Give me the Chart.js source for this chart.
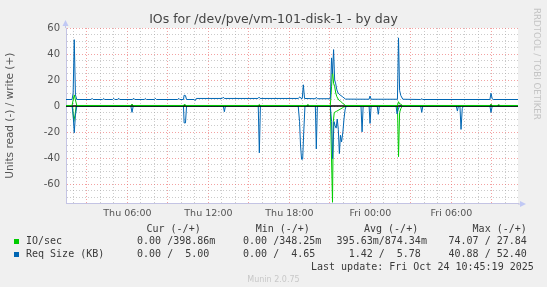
<!DOCTYPE html>
<html>
<head>
<meta charset="utf-8">
<script src="https://cdn.jsdelivr.net/npm/chart.js@4.4.1/dist/chart.umd.min.js"></script>
<style>
  html, body { margin: 0; padding: 0; background: #f0f0f0; }
  #wrap { position: relative; width: 547px; height: 287px; overflow: hidden;
          font-family: "DejaVu Sans Mono", monospace; font-size: 10px; color: #3a3a3a; }
  #wrap canvas { position: absolute; left: 0; top: 0; }
  .t { position: absolute; white-space: pre; line-height: 12px; }
  .sq { position: absolute; width: 5px; height: 5px; }
  #vendor { position: absolute; left: 532px; top: 8px; writing-mode: vertical-rl;
            font-family: "DejaVu Sans", sans-serif; font-size: 8.7px; color: #c4c4c4; white-space: nowrap; }
  #ver { position: absolute; left: 0; width: 547px; top: 275px; text-align: center;
         font-family: "DejaVu Sans", sans-serif; font-size: 8px; line-height: 10px; color: #c8c8c8; }
</style>
</head>
<body>
<div id="wrap">
  <canvas id="chart" width="547" height="287"></canvas>
  <div id="vendor">RRDTOOL / TOBI OETIKER</div>
  <div id="legend"></div>
  <div id="ver"></div>
</div>
<script>
// hours since Thu 00:00
const xMin = 1.45;
const xMax = 34.93;
const xLabelHours = [6, 12, 18, 24, 30];
const xLabels = ["Thu 06:00", "Thu 12:00", "Thu 18:00", "Fri 00:00", "Fri 06:00"];
const yMin = -75;
const yMax = 60;
const yLabelValues = [-60, -40, -20, 0, 20, 40, 60];

const ioWrite = [
  [1.45, 0.4], [1.9, 0.4], [1.98, 4.6], [2.06, 8.5], [2.15, 4.6], [2.25, 0.4],
  [6.25, 0.4], [6.34, 1.5], [6.43, 0.4],
  [10.15, 0.4], [10.24, 1.5], [10.32, 0.4],
  [15.69, 0.4], [15.77, 1.2], [15.85, 0.4],
  [19.28, 0.4], [19.37, 1.2], [19.45, 0.4],
  [21.03, 0.4], [21.12, 15], [21.19, 27.84], [21.27, 17.5], [21.35, 15], [21.43, 10],
  [21.51, 7.2], [21.65, 4.6], [21.8, 3.5], [21.95, 2], [22.15, 0.4],
  [26.0, 0.4], [26.08, 3.3], [26.16, 1.5], [26.25, 1.5], [26.35, 0.4],
  [32.85, 0.4], [32.93, 1.5], [33.02, 0.4],
  [33.4, 0.4], [33.5, 1.0], [33.6, 0.4],
  [34.93, 0.4]
];
const ioRead = [
  [1.45, 0], [1.94, 0], [2.02, -12], [2.12, -7], [2.2, 0],
  [21.03, 0], [21.19, -74.07], [21.25, -12], [21.32, -5], [21.5, -4], [21.75, -2.5],
  [22.0, -1], [22.2, 0],
  [26.0, 0], [26.08, -39], [26.16, -5], [26.25, -2], [26.35, 0],
  [34.93, 0]
];
const sizeWrite = [
  [1.45, 5], [1.9, 5], [1.98, 10], [2.06, 51], [2.15, 8.5], [2.25, 5],
  [3.3, 5], [3.38, 5.9], [3.46, 5], [4.16, 5], [4.24, 5.8], [4.32, 5],
  [4.9, 5], [4.98, 5.9], [5.06, 5], [5.27, 5], [5.35, 6], [5.43, 5],
  [6.38, 5], [6.46, 6], [6.54, 5], [7.25, 5], [7.33, 5.8], [7.41, 5],
  [8.0, 5], [8.07, 5.9], [8.15, 5], [9.72, 5], [9.8, 5.9], [9.88, 5],
  [10.15, 5], [10.2, 8.3], [10.3, 8.0], [10.38, 5],
  [10.95, 5], [11.02, 4.2], [11.1, 5.8],
  [13.02, 5.8], [13.1, 6.8], [13.18, 5.8],
  [15.67, 5.8], [15.75, 6.8], [15.83, 5.8],
  [18.65, 5.8], [18.77, 7], [18.86, 5.8], [18.95, 5.8], [19.03, 16.3], [19.12, 5.8],
  [19.92, 5.6], [19.99, 6.6], [20.07, 5.6],
  [21.03, 5.6], [21.12, 37], [21.19, 25], [21.27, 43.4], [21.35, 20], [21.43, 17],
  [21.51, 12.5], [21.6, 10], [21.75, 8.5], [21.95, 7], [22.15, 5.3],
  [23.9, 5.2], [23.97, 7.7], [24.05, 5.2],
  [26.0, 5.2], [26.08, 52.4], [26.16, 12], [26.25, 8], [26.4, 5.2],
  [27.72, 5], [27.8, 5.6], [27.88, 5],
  [32.85, 5], [32.93, 9.8], [33.02, 5.5], [33.1, 5],
  [34.93, 5]
];
const sizeRead = [
  [1.45, 0], [1.9, 0], [1.98, -7], [2.06, -20.6], [2.15, -7], [2.25, 0],
  [6.25, 0], [6.34, -4.9], [6.43, 0],
  [10.15, 0], [10.2, -13], [10.3, -13], [10.38, 0],
  [13.1, 0], [13.18, -4.4], [13.26, 0],
  [15.69, 0], [15.77, -36], [15.85, 0],
  [18.65, 0], [18.75, -12], [18.82, -30], [18.9, -41], [18.98, -40.88], [19.06, -20], [19.15, 0],
  [19.92, 0], [19.99, -33], [20.07, 0],
  [21.03, 0], [21.12, -12], [21.2, -40.5], [21.3, -12], [21.38, -15], [21.46, -17],
  [21.54, -10], [21.62, -18], [21.7, -36.6], [21.78, -22.5], [21.86, -27.6], [21.96, -20],
  [22.04, -10], [22.12, -3], [22.2, 0],
  [23.3, 0], [23.38, -19.9], [23.46, 0],
  [23.9, 0], [23.97, -13.4], [24.05, 0],
  [24.5, 0], [24.58, -6.4], [24.66, 0],
  [25.9, 0], [25.97, -6], [26.05, -3], [26.15, 0],
  [27.72, 0], [27.8, -4.9], [27.88, 0],
  [30.36, 0], [30.44, -3.9], [30.52, 0], [30.63, 0], [30.71, -18], [30.8, -2], [30.88, 0],
  [32.85, 0], [32.93, -5], [33.02, 0],
  [34.93, 0]
];
const zeroRule = [[xMin, 0], [xMax, 0]];

const seriesNames = ["IO/sec", "Req Size (KB)"];
const seriesColors = ["#00cc00", "#0066b3"];
const statHeaders = ["Cur (-/+)", "Min (-/+)", "Avg (-/+)", "Max (-/+)"];
const statCur = ["  0.00 /398.86m", "  0.00 /  5.00 "];
const statMin = ["  0.00 /348.25m", "  0.00 /  4.65 "];
const statAvg = ["395.63m/874.34m", "  1.42 /  5.78 "];
const statMax = [" 74.07 / 27.84 ", " 40.88 / 52.40 "];
const lastUpdate = "Last update: Fri Oct 24 10:45:19 2025";
const versionText = "Munin 2.0.75";

function toXY(arr) {
  return arr.map((p) => ({ x: p[0], y: p[1] }));
}

function makeTicks(from, to, step) {
  const out = [];
  for (let v = from; v <= to; v += step) out.push({ value: v });
  return out;
}

const red = "rgba(235,100,100,0.6)";
const gray = "rgba(160,160,160,0.55)";
const axisColor = "#c4c4e4";

const plotBackground = {
  id: "plotBackground",
  beforeDraw(chart) {
    const a = chart.chartArea;
    const c = chart.ctx;
    c.save();
    c.fillStyle = "#ffffff";
    c.fillRect(a.left, a.top, a.right - a.left, a.bottom - a.top);
    c.restore();
  },
  afterDraw(chart) {
    // rrdtool style axis arrows
    const a = chart.chartArea;
    const c = chart.ctx;
    c.save();
    c.strokeStyle = axisColor;
    c.fillStyle = "#c0c8f4";
    c.lineWidth = 1;
    c.beginPath();
    c.moveTo(a.left - 0.5, a.top);
    c.lineTo(a.left - 0.5, a.top - 4);
    c.moveTo(a.right, a.bottom + 0.5);
    c.lineTo(a.right + 4, a.bottom + 0.5);
    c.stroke();
    c.beginPath();
    c.moveTo(a.left - 3.5, a.top - 2);
    c.lineTo(a.left - 0.5, a.top - 8);
    c.lineTo(a.left + 2.5, a.top - 2);
    c.fill();
    c.beginPath();
    c.moveTo(a.right + 2, a.bottom - 2.5);
    c.lineTo(a.right + 8, a.bottom + 0.5);
    c.lineTo(a.right + 2, a.bottom + 3.5);
    c.fill();
    c.restore();
  },
};

const lineStyle = { pointRadius: 0, borderWidth: 1, tension: 0, fill: false };

// lower order is drawn on top: write lines over the zero rule, read lines under it
new Chart(document.getElementById("chart").getContext("2d"), {
  type: "line",
  data: {
    datasets: [
      { label: "Req Size write", data: toXY(sizeWrite), borderColor: seriesColors[1], order: 0, ...lineStyle },
      { label: "IO/sec write", data: toXY(ioWrite), borderColor: seriesColors[0], order: 1, ...lineStyle },
      { label: "zero", data: toXY(zeroRule), borderColor: "#000000", order: 2, ...lineStyle, borderWidth: 1.5 },
      { label: "Req Size read", data: toXY(sizeRead), borderColor: seriesColors[1], order: 3, ...lineStyle },
      { label: "IO/sec read", data: toXY(ioRead), borderColor: seriesColors[0], order: 4, ...lineStyle },
    ],
  },
  options: {
    responsive: false,
    animation: false,
    devicePixelRatio: 1,
    layout: { padding: 0 },
    plugins: {
      legend: { display: false },
      tooltip: { enabled: false },
      title: {
        display: true,
        text: "IOs for /dev/pve/vm-101-disk-1 - by day",
        color: "#444",
        font: { family: "DejaVu Sans", size: 12.5, weight: "normal" },
        padding: { top: 12.3, bottom: 0.7 },
      },
    },
    scales: {
      x: {
        type: "linear",
        min: xMin,
        max: xMax,
        afterBuildTicks: (scale) => { scale.ticks = makeTicks(2, 34, 1); },
        afterFit: (scale) => { scale.height = 83.5; },
        ticks: {
          autoSkip: false,
          maxRotation: 0,
          padding: 4,
          color: "#555",
          font: { family: "DejaVu Sans", size: 9.5 },
          callback: (v) => {
            const i = xLabelHours.indexOf(v);
            return i >= 0 ? xLabels[i] : "";
          },
        },
        grid: {
          drawTicks: false,
          color: (ctx) => (ctx.tick && ctx.tick.value % 3 === 0 ? red : gray),
        },
        border: { color: axisColor, dash: [1, 2] },
      },
      y: {
        min: yMin,
        max: yMax,
        afterBuildTicks: (scale) => { scale.ticks = makeTicks(yMin, yMax, 5); },
        afterFit: (scale) => { scale.width = 66; },
        ticks: {
          autoSkip: false,
          padding: 6,
          color: "#555",
          font: { family: "DejaVu Sans", size: 10 },
          callback: (v) => (yLabelValues.includes(v) ? String(v) : ""),
        },
        grid: {
          drawTicks: false,
          color: (ctx) => (ctx.tick && ctx.tick.value % 20 === 0 ? red : gray),
        },
        border: { color: axisColor, dash: [1, 2] },
        title: {
          display: true,
          text: "Units read (-) / write (+)",
          color: "#555",
          font: { family: "DejaVu Sans", size: 10.5 },
          padding: { top: 4, bottom: 0 },
        },
      },
      yRight: {
        position: "right",
        display: true,
        grid: { display: false, drawTicks: false },
        border: { display: false },
        ticks: { display: false },
        afterFit: (scale) => { scale.width = 29; },
      },
    },
  },
  plugins: [plotBackground],
});

// legend block under the plot, monospace like rrdtool
const legend = document.getElementById("legend");
function addText(str, left, top) {
  const d = document.createElement("div");
  d.className = "t";
  d.style.left = left + "px";
  d.style.top = top + "px";
  d.textContent = str;
  legend.appendChild(d);
}
const headerLeft = [146.5, 255.7, 364, 472.6];
const cellLeft = [125, 231, 336.6, 442.5];
statHeaders.forEach((h, i) => addText(h, headerLeft[i], 223));
seriesNames.forEach((name, r) => {
  const top = 235.4 + r * 12.9;
  const sq = document.createElement("div");
  sq.className = "sq";
  sq.style.left = "14px";
  sq.style.top = top + 4 + "px";
  sq.style.background = seriesColors[r];
  legend.appendChild(sq);
  addText(name, 26, top);
  [statCur, statMin, statAvg, statMax].forEach((col, i) => addText(col[r], cellLeft[i], top));
});
addText(lastUpdate, 311, 261.2);
document.getElementById("ver").textContent = versionText;
</script>
</body>
</html>
